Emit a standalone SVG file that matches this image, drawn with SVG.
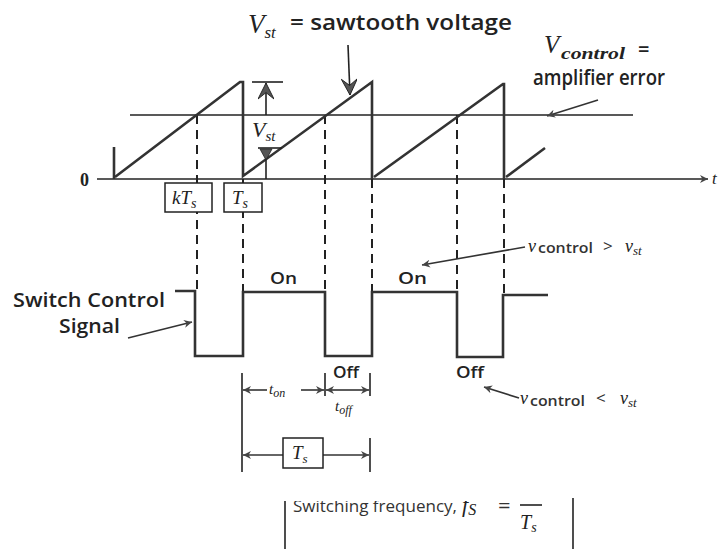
<svg xmlns="http://www.w3.org/2000/svg" width="724" height="549" viewBox="0 0 724 549">
<style>
.lbl{font-family:"Open Sans","Liberation Sans",sans-serif;font-weight:600;fill:#222}
.thin{font-family:"Open Sans","Liberation Sans",sans-serif;fill:#333}
.math{font-family:"Liberation Serif",serif;font-style:italic;fill:#222}
.wave{stroke:#333;stroke-width:2.6;fill:none;stroke-linejoin:miter}
.ln{stroke:#222;stroke-width:1.6;fill:none}
.dash{stroke:#222;stroke-width:2;fill:none;stroke-dasharray:9 6}
.box{fill:#fff;stroke:#222;stroke-width:1.5}
.arr{stroke:#333;stroke-width:1.6;fill:none;marker-end:url(#ah)}
</style>
<defs>
<marker id="ah" viewBox="0 0 10 10" refX="10" refY="5" markerWidth="12" markerHeight="8" markerUnits="userSpaceOnUse" orient="auto">
<path d="M0,0 L10,5 L0,10 L3,5 z" fill="#444"/>
</marker>
<marker id="big" viewBox="0 0 10 10" refX="10" refY="5" markerWidth="22" markerHeight="16" markerUnits="userSpaceOnUse" orient="auto">
<path d="M0,0 L10,5 L0,10 L4,5 z" fill="#555" stroke="#222" stroke-width="0.6"/>
</marker>
<clipPath id="cut"><rect x="0" y="501" width="724" height="48"/></clipPath>
</defs>

<g id="connectors">
<line class="ln" x1="97" y1="179" x2="708" y2="179" marker-end="url(#ah)"/>
<line class="ln" x1="130" y1="115" x2="633" y2="115"/>
<line class="dash" x1="197" y1="115" x2="197" y2="291"/>
<line class="dash" x1="243" y1="179" x2="243" y2="292"/>
<line class="dash" x1="325" y1="115" x2="325" y2="292"/>
<line class="dash" x1="372" y1="179" x2="372" y2="292"/>
<line class="dash" x1="457" y1="115" x2="457" y2="292"/>
<line class="dash" x1="504" y1="179" x2="504" y2="295"/>
<g id="sawtooth">
<line class="wave" x1="114" y1="147" x2="114" y2="179"/>
<polyline class="wave" points="115,177 240,82 243,82 243,176 372,82 372,179"/>
<polyline class="wave" points="374,177 503,84 504,84 504,179"/>
<line class="wave" x1="506" y1="177" x2="545" y2="148"/>
</g>
<line class="ln" x1="252" y1="82" x2="283" y2="82"/>
<line class="ln" x1="266" y1="115" x2="266" y2="83" marker-end="url(#big)"/>
<line class="ln" x1="258" y1="148" x2="282" y2="148"/>
<line class="ln" x1="266" y1="179" x2="266" y2="149"/>
<path d="M260,149 L272,149 L266,160 z" fill="#555" stroke="#222" stroke-width="0.8"/>
<polyline class="wave" points="175,291 195,291 195,356 243,356 243,292 325,292 325,356 372,356 372,292 457,292 457,357 503,357 503,295 548,295"/>
<line class="ln" x1="348" y1="45" x2="350" y2="95" marker-end="url(#big)"/>
<line class="arr" x1="598" y1="100" x2="547" y2="116"/>
<line class="arr" x1="128" y1="338" x2="192" y2="322"/>
<line class="arr" x1="525" y1="247" x2="422" y2="265"/>
<line class="arr" x1="519" y1="398" x2="484" y2="387"/>
<line class="ln" x1="242" y1="373" x2="242" y2="472"/>
<line class="ln" x1="325" y1="373" x2="325" y2="396"/>
<line class="ln" x1="370" y1="373" x2="370" y2="396"/>
<line class="ln" x1="370" y1="438" x2="370" y2="472"/>
<line class="arr" x1="267" y1="390" x2="243" y2="390"/>
<line class="arr" x1="301" y1="390" x2="324" y2="390"/>
<line class="arr" x1="347" y1="390" x2="326" y2="390"/>
<line class="arr" x1="347" y1="390" x2="369" y2="390"/>
<line class="arr" x1="283" y1="455" x2="243" y2="455"/>
<line class="arr" x1="323" y1="455" x2="369" y2="455"/>
<line class="ln" x1="285" y1="501" x2="285" y2="549"/>
<line class="ln" x1="573" y1="498" x2="573" y2="549"/>
</g>

<g id="title">
<text class="math" x="248" y="33" font-size="27">V<tspan font-size="17" dy="5">st</tspan></text>
<text class="lbl" x="290" y="30" font-size="21" textLength="222" lengthAdjust="spacingAndGlyphs">= sawtooth voltage</text>
</g>
<g id="vcontrol-label">
<text class="math" x="544" y="53" font-size="25">V</text>
<text class="math" x="561" y="59" font-size="16" font-weight="bold" textLength="64" lengthAdjust="spacingAndGlyphs">control</text>
<text class="lbl" x="638" y="56" font-size="20">=</text>
<text class="lbl" x="533" y="85" font-size="22" textLength="132" lengthAdjust="spacingAndGlyphs">amplifier error</text>
</g>
<g id="zero"><text x="80" y="186" font-family="Liberation Serif,serif" font-weight="bold" font-size="18" fill="#222">0</text></g>
<g id="t-label"><text class="math" x="712" y="184" font-size="17">t</text></g>
<g id="vst-label"><text class="math" x="252" y="137" font-size="22">V<tspan font-size="15" dy="4">st</tspan></text></g>

<g id="kTs-box">
<rect class="box" x="165" y="183" width="47" height="29"/>
<text class="math" x="172" y="204" font-size="19">kT<tspan font-size="14" dy="4">s</tspan></text>
</g>
<g id="Ts-box">
<rect class="box" x="224" y="183" width="38" height="29"/>
<text class="math" x="232" y="204" font-size="19">T<tspan font-size="14" dy="4">s</tspan></text>
</g>

<g id="switch-label">
<text class="lbl" x="13" y="307" font-size="20" textLength="152" lengthAdjust="spacingAndGlyphs">Switch Control</text>
<text class="lbl" x="59" y="333" font-size="20" textLength="61" lengthAdjust="spacingAndGlyphs">Signal</text>
</g>
<g id="on-off">
<text class="lbl" x="270" y="284" font-size="17" textLength="27" lengthAdjust="spacingAndGlyphs">On</text>
<text class="lbl" x="398" y="284" font-size="17" textLength="29" lengthAdjust="spacingAndGlyphs">On</text>
<text class="lbl" x="333" y="378" font-size="16" textLength="26" lengthAdjust="spacingAndGlyphs">Off</text>
<text class="lbl" x="456" y="378" font-size="16" textLength="28" lengthAdjust="spacingAndGlyphs">Off</text>
</g>
<g id="cond-gt">
<text class="math" x="528" y="252" font-size="18">v</text>
<text class="thin" x="538" y="253" font-size="14" font-weight="600" textLength="55" lengthAdjust="spacingAndGlyphs">control</text>
<text class="thin" x="603" y="252" font-size="17">&gt;</text>
<text class="math" x="625" y="252" font-size="18">v<tspan font-size="13" dy="3">st</tspan></text>
</g>
<g id="cond-lt">
<text class="math" x="520" y="404" font-size="18">v</text>
<text class="thin" x="530" y="406" font-size="14" font-weight="600" textLength="55" lengthAdjust="spacingAndGlyphs">control</text>
<text class="thin" x="596" y="404" font-size="17">&lt;</text>
<text class="math" x="620" y="404" font-size="18">v<tspan font-size="13" dy="3">st</tspan></text>
</g>
<g id="ton-label"><text class="math" x="269" y="394" font-size="15">t<tspan font-size="12" dy="3">on</tspan></text></g>
<g id="toff-label"><text class="math" x="335" y="411" font-size="15">t<tspan font-size="12" dy="3">off</tspan></text></g>
<g id="Ts-period">
<rect class="box" x="283" y="438" width="40" height="30"/>
<text class="math" x="292" y="459" font-size="19">T<tspan font-size="13" dy="4">s</tspan></text>
</g>
<g id="formula" clip-path="url(#cut)">
<text class="thin" x="293" y="512" font-size="17" textLength="164" lengthAdjust="spacingAndGlyphs" fill="#444">Switching frequency,</text>
<text class="math" x="462" y="512" font-size="22">f<tspan font-size="16" dy="3">S</tspan></text>
<text class="thin" x="498" y="513" font-size="22">=</text>
<line class="ln" x1="520" y1="505" x2="542" y2="505"/>
<text class="math" x="520" y="529" font-size="20">T<tspan font-size="14" dy="3">s</tspan></text>
</g>
</svg>
